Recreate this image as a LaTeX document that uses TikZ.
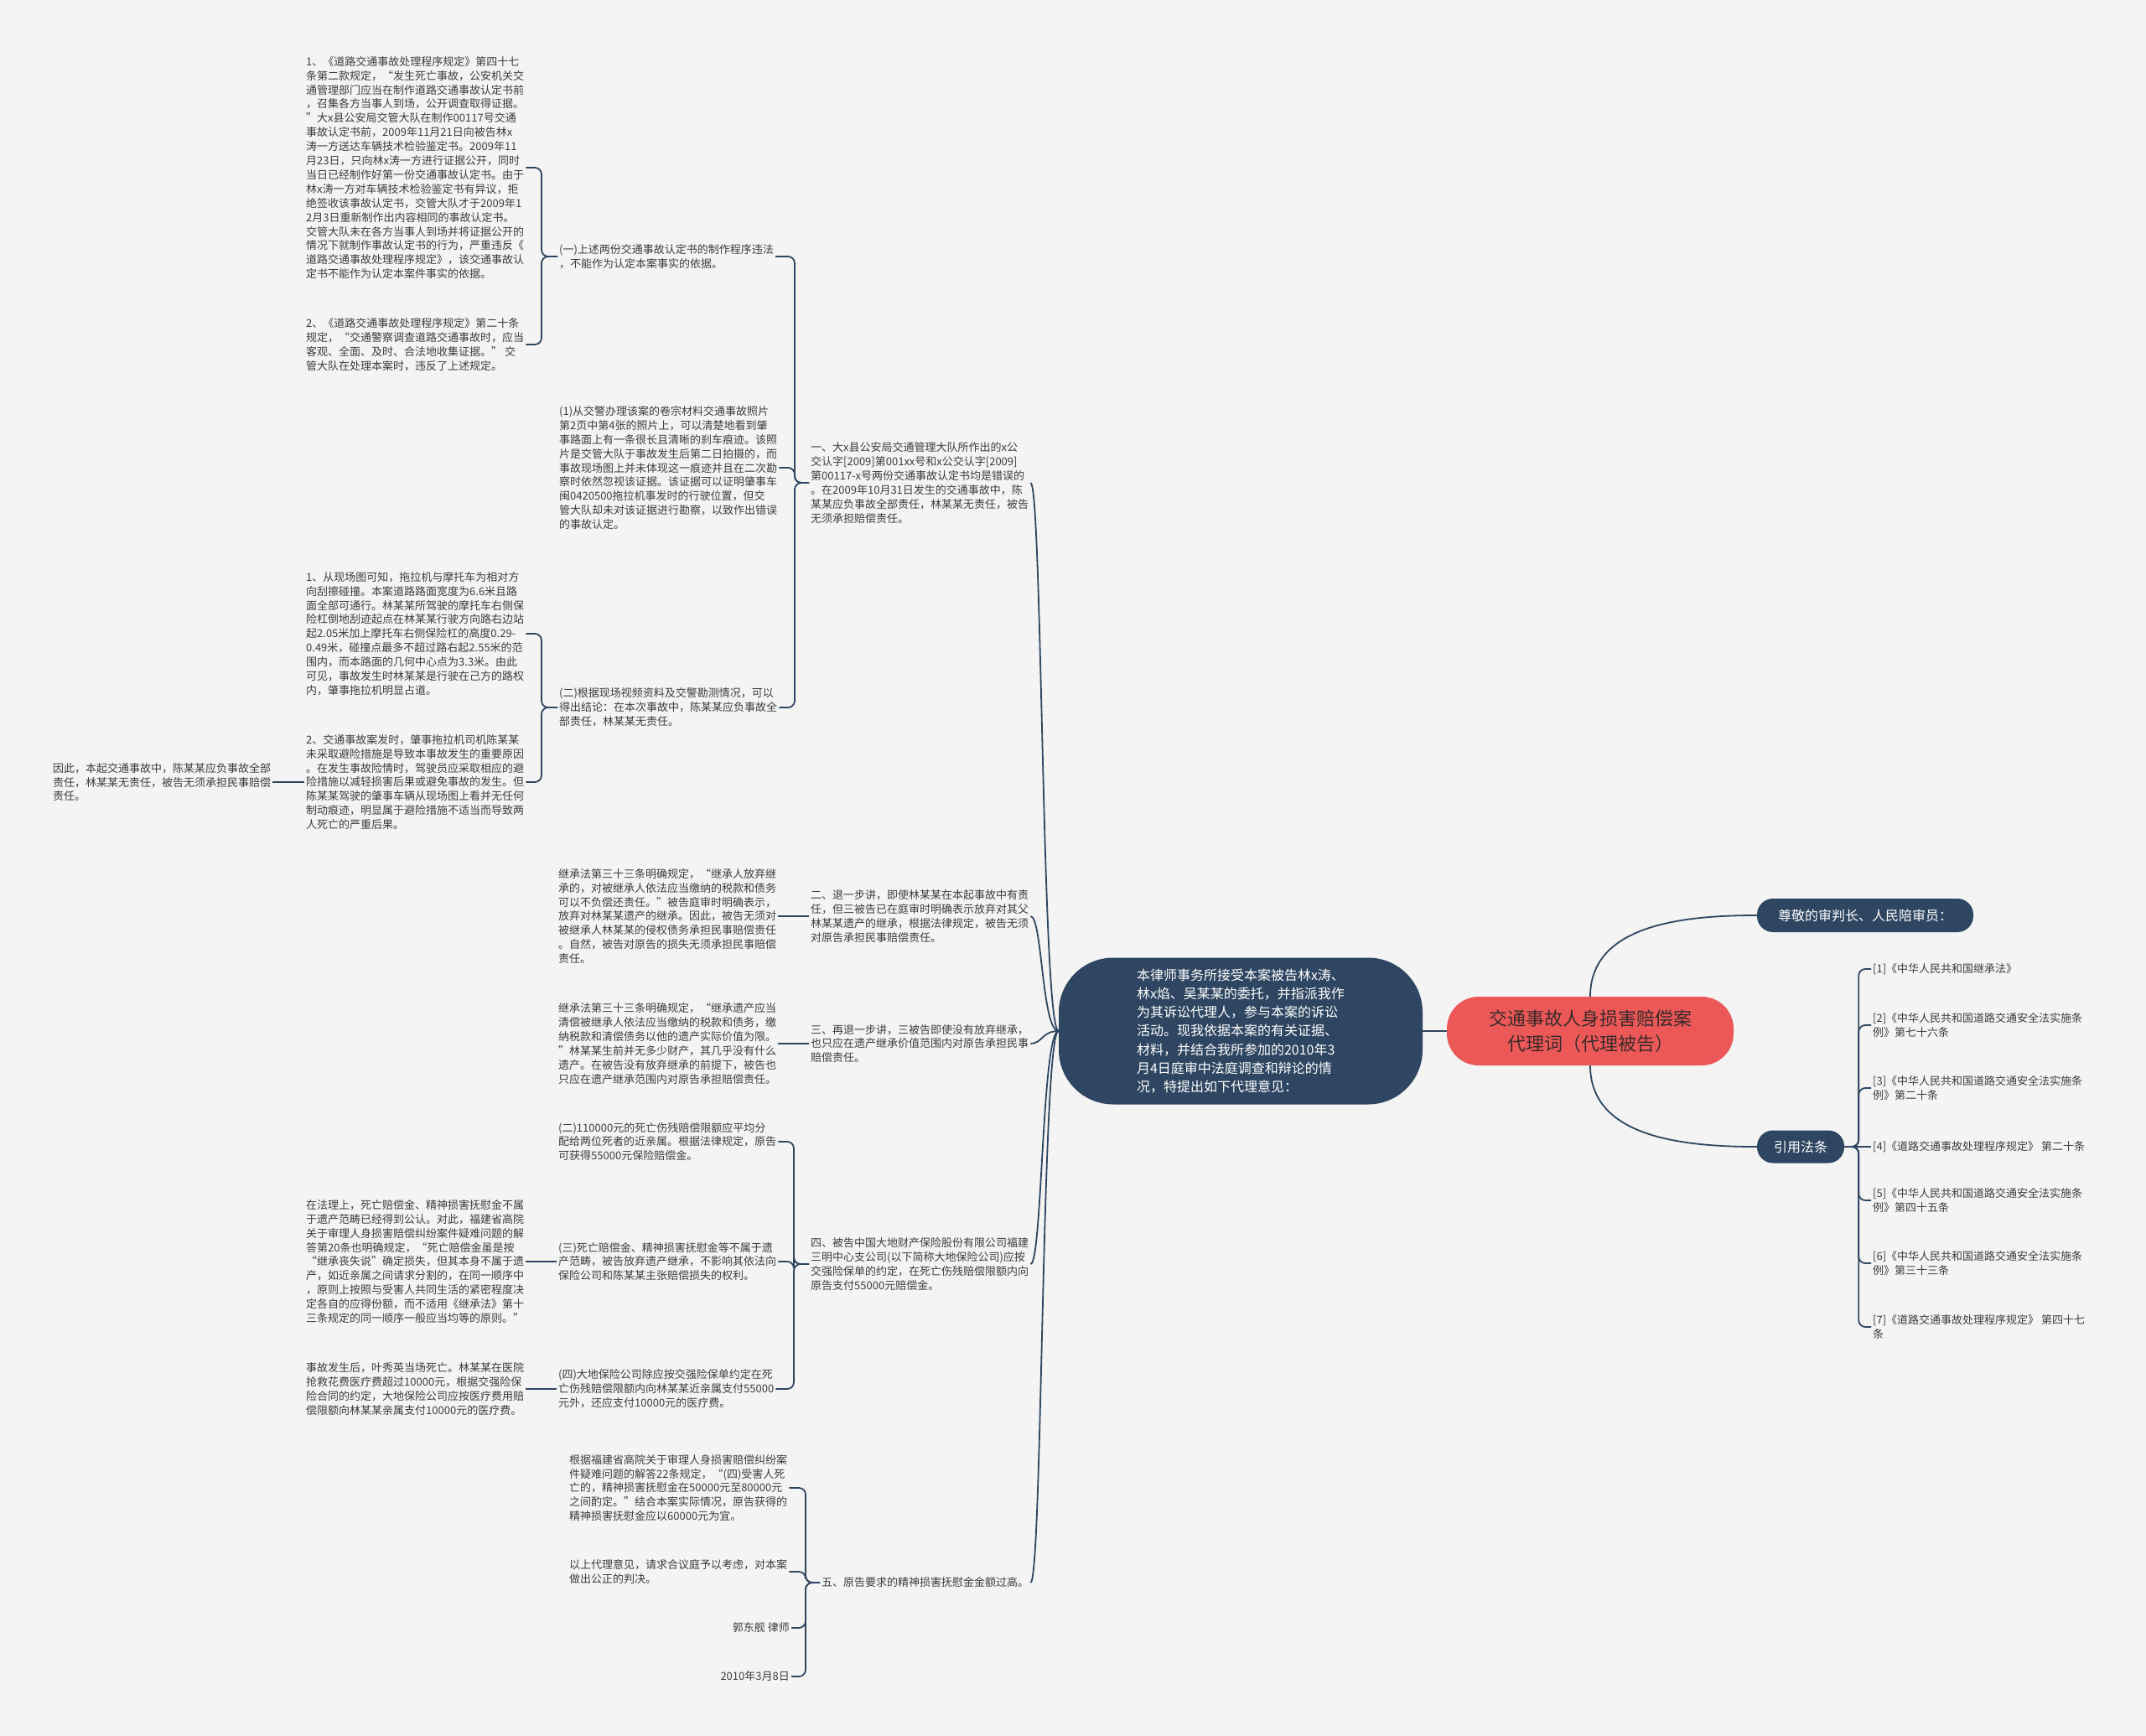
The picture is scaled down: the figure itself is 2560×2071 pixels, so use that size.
\documentclass[tikz,border=0pt]{standalone}
\usepackage{fontspec}
\setmainfont{Noto Sans CJK SC}
\usepackage{tikz}
\usetikzlibrary{positioning}
\definecolor{bgc}{HTML}{F4F4F4}
\definecolor{navy}{HTML}{2E4661}
\definecolor{redc}{HTML}{EC5858}
\definecolor{leafc}{HTML}{3C3C3C}
\definecolor{titlec}{HTML}{3A2A2A}
\tikzstyle{leaf} = [text=leafc, align=left, inner sep=2pt, font=\fontsize{13pt}{16.9pt}\selectfont]
\tikzstyle{topic} = [fill=navy, text=white, align=left, font=\fontsize{16pt}{22.3pt}\selectfont]
\tikzstyle{maintopic} = [fill=redc, text=titlec, align=center, rounded corners=38pt, font=\fontsize{22pt}{30pt}\selectfont]
\tikzstyle{link} = [draw=navy, line width=1.8pt, rounded corners=8pt]

\begin{document}
\begin{tikzpicture}[x=1pt, y=-1pt]

\fill [bgc] (0,0) rectangle (2560,2071);
\useasboundingbox (0,0) rectangle (2560,2071);

\node (center) [maintopic, minimum width=342pt, minimum height=82pt] at (1897,1230) {交通事故人身损害赔偿案\\代理词（代理被告）};
\node (intro) [topic, rounded corners=65pt, minimum width=434pt, minimum height=175pt] at (1480,1230) {本律师事务所接受本案被告林x涛、\\林x焰、吴某某的委托，并指派我作\\为其诉讼代理人，参与本案的诉讼\\活动。现我依据本案的有关证据、\\材料，并结合我所参加的2010年3\\月4日庭审中法庭调查和辩论的情\\况，特提出如下代理意见：};
\node (judge) [topic, rounded corners=19pt, minimum width=258pt, minimum height=40pt] at (2225,1092) {尊敬的审判长、人民陪审员：};
\node (cite) [topic, rounded corners=19pt, minimum width=104pt, minimum height=39pt] at (2148,1368) {引用法条};

\node (r1) [leaf, anchor=west] at (2232,1156) {[1]《中华人民共和国继承法》};
\node (r2) [leaf, anchor=west] at (2232,1223) {[2]《中华人民共和国道路交通安全法实施条\\例》第七十六条};
\node (r3) [leaf, anchor=west] at (2232,1298) {[3]《中华人民共和国道路交通安全法实施条\\例》第二十条};
\node (r4) [leaf, anchor=west] at (2232,1368) {[4]《道路交通事故处理程序规定》 第二十条};
\node (r5) [leaf, anchor=west] at (2232,1432) {[5]《中华人民共和国道路交通安全法实施条\\例》第四十五条};
\node (r6) [leaf, anchor=west] at (2232,1507) {[6]《中华人民共和国道路交通安全法实施条\\例》第三十三条};
\node (r7) [leaf, anchor=west] at (2232,1583) {[7]《道路交通事故处理程序规定》 第四十七\\条};

\node (n1) [leaf, anchor=west] at (965,576) {一、大x县公安局交通管理大队所作出的x公\\交认字[2009]第001xx号和x公交认字[2009]\\第00117-x号两份交通事故认定书均是错误的\\。在2009年10月31日发生的交通事故中，陈\\某某应负事故全部责任，林某某无责任，被告\\无须承担赔偿责任。};
\node (n11) [leaf, anchor=west] at (665,306) {(一)上述两份交通事故认定书的制作程序违法\\，不能作为认定本案事实的依据。};
\node (a1) [leaf, anchor=west] at (363,200) {1、《道路交通事故处理程序规定》第四十七\\条第二款规定，“发生死亡事故，公安机关交\\通管理部门应当在制作道路交通事故认定书前\\，召集各方当事人到场，公开调查取得证据。\\”大x县公安局交管大队在制作00117号交通\\事故认定书前，2009年11月21日向被告林x\\涛一方送达车辆技术检验鉴定书。2009年11\\月23日，只向林x涛一方进行证据公开，同时\\当日已经制作好第一份交通事故认定书。由于\\林x涛一方对车辆技术检验鉴定书有异议，拒\\绝签收该事故认定书，交管大队才于2009年1\\2月3日重新制作出内容相同的事故认定书。\\交管大队未在各方当事人到场并将证据公开的\\情况下就制作事故认定书的行为，严重违反《\\道路交通事故处理程序规定》，该交通事故认\\定书不能作为认定本案件事实的依据。};
\node (a2) [leaf, anchor=west] at (363,411) {2、《道路交通事故处理程序规定》第二十条\\规定，“交通警察调查道路交通事故时，应当\\客观、全面、及时、合法地收集证据。” 交\\管大队在处理本案时，违反了上述规定。};
\node (n12) [leaf, anchor=west] at (665,558) {(1)从交警办理该案的卷宗材料交通事故照片\\第2页中第4张的照片上，可以清楚地看到肇\\事路面上有一条很长且清晰的刹车痕迹。该照\\片是交管大队于事故发生后第二日拍摄的，而\\事故现场图上并未体现这一痕迹并且在二次勘\\察时依然忽视该证据。该证据可以证明肇事车\\闽0420500拖拉机事发时的行驶位置，但交\\管大队却未对该证据进行勘察，以致作出错误\\的事故认定。};
\node (n13) [leaf, anchor=west] at (665,844) {(二)根据现场视频资料及交警勘测情况，可以\\得出结论：在本次事故中，陈某某应负事故全\\部责任，林某某无责任。};
\node (b1) [leaf, anchor=west] at (363,756) {1、从现场图可知，拖拉机与摩托车为相对方\\向刮擦碰撞。本案道路路面宽度为6.6米且路\\面全部可通行。林某某所驾驶的摩托车右侧保\\险杠倒地刮迹起点在林某某行驶方向路右边站\\起2.05米加上摩托车右侧保险杠的高度0.29-\\0.49米，碰撞点最多不超过路右起2.55米的范\\围内，而本路面的几何中心点为3.3米。由此\\可见，事故发生时林某某是行驶在己方的路权\\内，肇事拖拉机明显占道。};
\node (b2) [leaf, anchor=west] at (363,933) {2、交通事故案发时，肇事拖拉机司机陈某某\\未采取避险措施是导致本事故发生的重要原因\\。在发生事故险情时，驾驶员应采取相应的避\\险措施以减轻损害后果或避免事故的发生。但\\陈某某驾驶的肇事车辆从现场图上看并无任何\\制动痕迹，明显属于避险措施不适当而导致两\\人死亡的严重后果。};
\node (c1) [leaf, anchor=west] at (61,933) {因此，本起交通事故中，陈某某应负事故全部\\责任，林某某无责任，被告无须承担民事赔偿\\责任。};

\node (n2) [leaf, anchor=west] at (965,1093) {二、退一步讲，即使林某某在本起事故中有责\\任，但三被告已在庭审时明确表示放弃对其父\\林某某遗产的继承，根据法律规定，被告无须\\对原告承担民事赔偿责任。};
\node (d1) [leaf, anchor=west] at (664,1093) {继承法第三十三条明确规定，“继承人放弃继\\承的，对被继承人依法应当缴纳的税款和债务\\可以不负偿还责任。”被告庭审时明确表示，\\放弃对林某某遗产的继承。因此，被告无须对\\被继承人林某某的侵权债务承担民事赔偿责任\\。自然，被告对原告的损失无须承担民事赔偿\\责任。};
\node (n3) [leaf, anchor=west] at (965,1245) {三、再退一步讲，三被告即使没有放弃继承，\\也只应在遗产继承价值范围内对原告承担民事\\赔偿责任。};
\node (d2) [leaf, anchor=west] at (664,1245) {继承法第三十三条明确规定，“继承遗产应当\\清偿被继承人依法应当缴纳的税款和债务，缴\\纳税款和清偿债务以他的遗产实际价值为限。\\”林某某生前并无多少财产，其几乎没有什么\\遗产。在被告没有放弃继承的前提下，被告也\\只应在遗产继承范围内对原告承担赔偿责任。};

\node (n4) [leaf, anchor=west] at (965,1508) {四、被告中国大地财产保险股份有限公司福建\\三明中心支公司(以下简称大地保险公司)应按\\交强险保单的约定，在死亡伤残赔偿限额内向\\原告支付55000元赔偿金。};
\node (f1) [leaf, anchor=west] at (664,1362) {(二)110000元的死亡伤残赔偿限额应平均分\\配给两位死者的近亲属。根据法律规定，原告\\可获得55000元保险赔偿金。};
\node (f2) [leaf, anchor=west] at (664,1505) {(三)死亡赔偿金、精神损害抚慰金等不属于遗\\产范畴，被告放弃遗产继承，不影响其依法向\\保险公司和陈某某主张赔偿损失的权利。};
\node (f3) [leaf, anchor=west] at (664,1657) {(四)大地保险公司除应按交强险保单约定在死\\亡伤残赔偿限额内向林某某近亲属支付55000\\元外，还应支付10000元的医疗费。};
\node (g1) [leaf, anchor=west] at (363,1505) {在法理上，死亡赔偿金、精神损害抚慰金不属\\于遗产范畴已经得到公认。对此，福建省高院\\关于审理人身损害赔偿纠纷案件疑难问题的解\\答第20条也明确规定，“死亡赔偿金虽是按\\“继承丧失说”确定损失，但其本身不属于遗\\产，如近亲属之间请求分割的，在同一顺序中\\，原则上按照与受害人共同生活的紧密程度决\\定各自的应得份额，而不适用《继承法》第十\\三条规定的同一顺序一般应当均等的原则。”};
\node (g2) [leaf, anchor=west] at (363,1657) {事故发生后，叶秀英当场死亡。林某某在医院\\抢救花费医疗费超过10000元，根据交强险保\\险合同的约定，大地保险公司应按医疗费用赔\\偿限额向林某某亲属支付10000元的医疗费。};

\node (n5) [leaf, anchor=west] at (978,1888) {五、原告要求的精神损害抚慰金金额过高。};
\node (e1) [leaf, anchor=west] at (677,1775) {根据福建省高院关于审理人身损害赔偿纠纷案\\件疑难问题的解答22条规定，“(四)受害人死\\亡的，精神损害抚慰金在50000元至80000元\\之间酌定。”结合本案实际情况，原告获得的\\精神损害抚慰金应以60000元为宜。};
\node (e2) [leaf, anchor=west] at (677,1875) {以上代理意见，请求合议庭予以考虑，对本案\\做出公正的判决。};
\node (e3) [leaf, anchor=east] at (944,1942) {郭东舰 律师};
\node (e4) [leaf, anchor=east] at (944,2000) {2010年3月8日};

\draw [link] (intro.east) -- (center.west);
\draw [link] (center.north) to[out=90,in=180] (judge.west);
\draw [link] (center.south) to[out=-90,in=180] (cite.west);
\draw [link] (cite.east) -- ++(17,0) |- (r1.west);
\draw [link] (cite.east) -- ++(17,0) |- (r2.west);
\draw [link] (cite.east) -- ++(17,0) |- (r3.west);
\draw [link] (cite.east) -- (r4.west);
\draw [link] (cite.east) -- ++(17,0) |- (r5.west);
\draw [link] (cite.east) -- ++(17,0) |- (r6.west);
\draw [link] (cite.east) -- ++(17,0) |- (r7.west);

\draw [link] (intro.west) .. controls +(-20,0) and +(14,0) .. (n1.east);
\draw [link] (intro.west) .. controls +(-20,0) and +(14,0) .. (n2.east);
\draw [link] (intro.west) .. controls +(-20,0) and +(14,0) .. (n3.east);
\draw [link] (intro.west) .. controls +(-20,0) and +(14,0) .. (n4.east);
\draw [link] (intro.west) .. controls +(-20,0) and +(14,0) .. (n5.east);

\draw [link] (n1.west) -- ++(-17,0) |- (n11.east);
\draw [link] (n1.west) -- ++(-17,0) |- (n12.east);
\draw [link] (n1.west) -- ++(-17,0) |- (n13.east);
\draw [link] (n11.west) -- ++(-19,0) |- (a1.east);
\draw [link] (n11.west) -- ++(-19,0) |- (a2.east);
\draw [link] (n13.west) -- ++(-19,0) |- (b1.east);
\draw [link] (n13.west) -- ++(-19,0) |- (b2.east);
\draw [link] (b2.west) -- (c1.east);

\draw [link] (n2.west) -- (d1.east);
\draw [link] (n3.west) -- (d2.east);

\draw [link] (n4.west) -- ++(-18,0) |- (f1.east);
\draw [link] (n4.west) -- ++(-18,0) |- (f2.east);
\draw [link] (n4.west) -- ++(-18,0) |- (f3.east);
\draw [link] (f2.west) -- (g1.east);
\draw [link] (f3.west) -- (g2.east);

\draw [link] (n5.west) -- ++(-17,0) |- (e1.east);
\draw [link] (n5.west) -- ++(-17,0) |- (e2.east);
\draw [link] (n5.west) -- ++(-17,0) |- (e3.east);
\draw [link] (n5.west) -- ++(-17,0) |- (e4.east);

\end{tikzpicture}
\end{document}
